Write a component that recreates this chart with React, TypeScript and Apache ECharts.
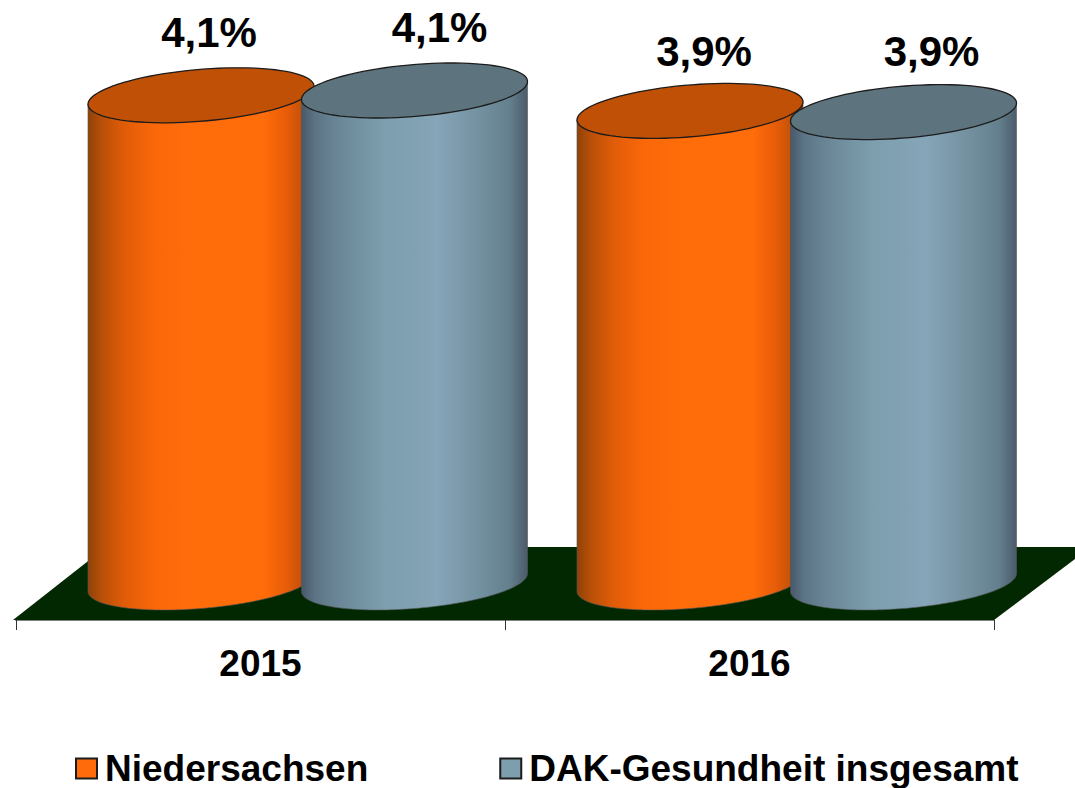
import React, { useEffect, useRef } from "react";
import * as echarts from "echarts";

const categories = ["2015", "2016"];
const niedersachsen = [4.06, 3.93];
const dakGesamt = [4.1, 3.92];
const legendNames = ["Niedersachsen", "DAK-Gesundheit insgesamt"];

const FONT = '"Liberation Sans", Arial, sans-serif';
const GRID_TOP = 20;
const GRID_H = 600;
const DEPTH = 37.5; // base centre sits behind the axis line
const ELL_A = 113.4;
const ELL_B = 25.9;
const ELL_ROT = (4.8 * Math.PI) / 180;
const T0 = Math.atan((ELL_B * Math.sin(ELL_ROT)) / (ELL_A * Math.cos(ELL_ROT)));

const ellPt = (cx: number, cy: number, t: number) => [
  cx + ELL_A * Math.cos(t) * Math.cos(ELL_ROT) + ELL_B * Math.sin(t) * Math.sin(ELL_ROT),
  cy - ELL_A * Math.cos(t) * Math.sin(ELL_ROT) + ELL_B * Math.sin(t) * Math.cos(ELL_ROT),
];

const arcPath = (cx: number, cy: number, from: number, to: number, move: boolean) => {
  const n = 90;
  let d = "";
  for (let i = 0; i <= n; i++) {
    const [x, y] = ellPt(cx, cy, from + ((to - from) * i) / n);
    d += `${i === 0 && move ? "M" : "L"}${x.toFixed(2)} ${y.toFixed(2)}`;
  }
  return d;
};

const grad = (stops: [number, string][]) => ({
  type: "linear",
  x: 0,
  y: 0,
  x2: 1,
  y2: 0,
  colorStops: stops.map(([offset, color]) => ({ offset, color })),
});

const orangeBody = grad([
  [0, "#8e4208"],
  [0.06, "#b84f08"],
  [0.16, "#e05c08"],
  [0.3, "#fb680a"],
  [0.45, "#ff6c0a"],
  [0.78, "#ff6c0a"],
  [0.88, "#e65c08"],
  [1, "#a94a08"],
]);
const blueBody = grad([
  [0, "#47596a"],
  [0.06, "#5c7485"],
  [0.16, "#6a8696"],
  [0.36, "#7c9ead"],
  [0.6, "#86a5b8"],
  [0.8, "#728f9e"],
  [0.92, "#64808e"],
  [1, "#4b5b6a"],
]);

const cylinder = (
  values: number[],
  xOffset: number,
  body: object,
  topColor: string,
  labelOffsets: [number, number][]
) => (params: any, api: any) => {
  const idx = params.dataIndex;
  const p = api.coord([api.value(0), api.value(1)]);
  const base = api.coord([api.value(0), 0]);
  const cx = p[0] + xOffset;
  const ty = p[1] - DEPTH;
  const by = base[1] - DEPTH;
  const bodyPath =
    arcPath(cx, ty, Math.PI + T0, Math.PI + T0, true) +
    arcPath(cx, by, Math.PI + T0, T0, false) +
    arcPath(cx, ty, T0, T0, false) +
    "Z";
  const topPath = arcPath(cx, ty, 0, Math.PI * 2, true) + "Z";
  const [dx, dy] = labelOffsets[idx];
  return {
    type: "group",
    children: [
      { type: "path", shape: { pathData: bodyPath }, style: { fill: body, stroke: "#555", lineWidth: 0.6 } },
      { type: "path", shape: { pathData: topPath }, style: { fill: topColor, stroke: "#1c1c1c", lineWidth: 1.3 } },
      {
        type: "text",
        style: {
          text: values[idx].toFixed(1).replace(".", ",") + "%",
          x: cx + dx,
          y: ty + dy,
          fill: "#000",
          font: `bold 42px ${FONT}`,
          align: "center",
          verticalAlign: "middle",
        },
      },
    ],
  };
};

const floor = (params: any, api: any) => {
  const cs = params.coordSys;
  const yb = cs.y + cs.height;
  const xr = cs.x + cs.width;
  return {
    type: "polygon",
    shape: {
      points: [
        [cs.x - 3, yb],
        [xr, yb],
        [xr + 97, yb - 73],
        [cs.x + 90, yb - 73],
      ],
    },
    style: { fill: "#022802" },
  };
};

export default function App() {
  const ref = useRef<HTMLDivElement>(null);
  useEffect(() => {
    document.body.style.margin = "0";
    const chart = echarts.init(ref.current!, null, { renderer: "svg" });
    chart.setOption({
      animation: false,
      backgroundColor: "#fff",
      grid: { left: 16, right: 81, top: GRID_TOP, height: GRID_H },
      xAxis: {
        type: "category",
        data: categories,
        axisTick: { show: true, alignWithLabel: false, length: 10, lineStyle: { color: "#333", width: 1 } },
        axisLine: { show: true, lineStyle: { color: "#808080", width: 2 } },
        axisLabel: { color: "#000", fontFamily: FONT, fontWeight: "bold", fontSize: 37, margin: 25 },
      },
      yAxis: { type: "value", min: 0, max: 5, show: false },
      legend: {
        left: 75,
        top: 750,
        padding: 0,
        icon: "rect",
        itemWidth: 21,
        itemHeight: 20,
        itemGap: 131,
        selectedMode: false,
        textStyle: { color: "#000", fontFamily: FONT, fontWeight: "bold", fontSize: 37, padding: [0, 0, 0, 3] },
        data: [
          { name: legendNames[0], itemStyle: { color: "#ff6a0a", borderColor: "#1c1c1c", borderWidth: 2 } },
          { name: legendNames[1], itemStyle: { color: "#7c9ead", borderColor: "#1c1c1c", borderWidth: 2 } },
        ],
      },
      series: [
        { type: "custom", name: "Boden", silent: true, z: 1, clip: false, data: [[0, 0]], renderItem: floor },
        {
          type: "custom",
          name: legendNames[0],
          z: 3,
          clip: false,
          encode: { x: 0, y: 1 },
          data: niedersachsen.map((v, i) => [i, v]),
          itemStyle: { color: "#ff6a0a" },
          renderItem: cylinder(niedersachsen, -59.5, orangeBody, "#c05006", [[8, -63], [14, -59]]),
        },
        {
          type: "custom",
          name: legendNames[1],
          z: 4,
          clip: false,
          encode: { x: 0, y: 1 },
          data: dakGesamt.map((v, i) => [i, v]),
          itemStyle: { color: "#7c9ead" },
          renderItem: cylinder(dakGesamt, 154, blueBody, "#5d747f", [[25, -63], [28, -61]]),
        },
      ],
    });
    return () => chart.dispose();
  }, []);
  return <div ref={ref} style={{ width: 1075, height: 788 }} />;
}
